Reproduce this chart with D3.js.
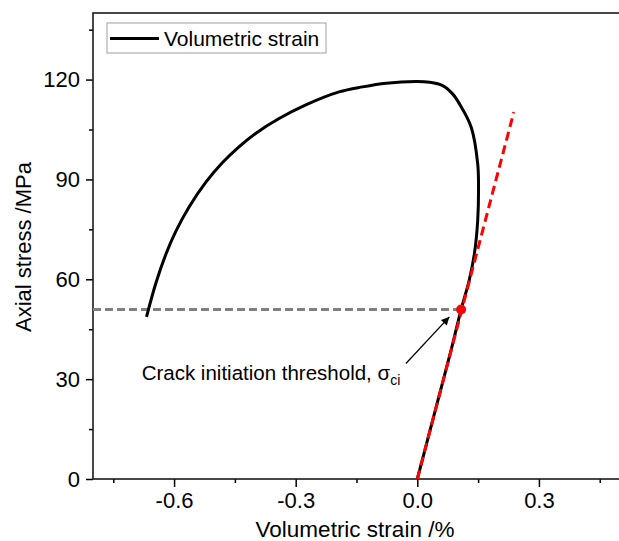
<!DOCTYPE html>
<html>
<head>
<meta charset="utf-8">
<script src="https://cdn.jsdelivr.net/npm/d3@7"></script>
<style>
  html, body { margin: 0; padding: 0; background: #fff; }
  svg { display: block; font-family: "Liberation Sans", Arial, sans-serif; }
</style>
</head>
<body>
<div id="chart"></div>
<script>
// volumetric strain curve (strain in %, stress in MPa)
const strain = [0, 0.028, 0.056, 0.084, 0.108, 0.128, 0.141, 0.149, 0.151, 0.149, 0.133,
  0.104, 0.087, 0.0625, 0.03, -0.003, -0.077, -0.135, -0.193, -0.275, -0.341, -0.398,
  -0.440, -0.481, -0.522, -0.563, -0.596, -0.620, -0.645, -0.668];
const stress = [0, 13, 26, 39, 50.9, 59.7, 67.8, 77.7, 87.7, 94.7, 105.7,
  112.7, 115.7, 118.2, 119.2, 119.4, 118.9, 117.8, 116.3, 112.4, 108.3, 103.9,
  99.8, 95.0, 89.1, 81.7, 74.3, 67.6, 58.8, 48.7];

// linear elastic fit (red dashed)
const fitStrain = [0, 0.238];
const fitStress = [0, 110.2];

// crack initiation point
const ciStrain = 0.108;
const ciStress = 50.9;

// annotation arrow (tail -> head) and label anchor
const arrowStrain = [-0.028, 0.079];
const arrowStress = [34.7, 48.7];
const labelAt = [-0.68, 29.7];

const xMajor = [-0.6, -0.3, 0.0, 0.3];
const xMinor = [-0.75, -0.45, -0.15, 0.15, 0.45];
const yMajor = [0, 30, 60, 90, 120];
const yMinor = [15, 45, 75, 105, 135];

const W = 619, H = 541;
const M = { left: 93, right: 620, top: 13, bottom: 479 };

const svg = d3.select("#chart").append("svg")
  .attr("width", W).attr("height", H);

const x = d3.scaleLinear().domain([-0.8, 0.5]).range([M.left, M.right]);
const y = d3.scaleLinear().domain([0, 140]).range([M.bottom, M.top]);

// plain hyphen for negatives, like the source plot
const fmt = (d) => d.toFixed(1).replace("\u2212", "-");

// ─── axes ──────────────────────────────────────────────────────────────
const xAxis = d3.axisBottom(x).tickValues(xMajor).tickSize(8).tickPadding(5).tickFormat(fmt);
const xAxisMinor = d3.axisBottom(x).tickValues(xMinor).tickSize(4).tickFormat("");
const yAxis = d3.axisLeft(y).tickValues(yMajor).tickSize(7).tickPadding(6);
const yAxisMinor = d3.axisLeft(y).tickValues(yMinor).tickSize(4).tickFormat("");

function styleAxis(g) {
  g.select(".domain").remove();
  g.selectAll("line").attr("stroke", "#000").attr("stroke-width", 1.5);
  g.selectAll("text").attr("font-size", 22).attr("fill", "#000")
    .attr("font-family", "'Liberation Sans', Arial, sans-serif");
}

svg.append("g").attr("transform", `translate(0,${M.bottom})`).call(xAxis).call(styleAxis);
svg.append("g").attr("transform", `translate(0,${M.bottom})`).call(xAxisMinor).call(styleAxis);
svg.append("g").attr("transform", `translate(${M.left},0)`).call(yAxis).call(styleAxis);
svg.append("g").attr("transform", `translate(${M.left},0)`).call(yAxisMinor).call(styleAxis);

// frame
svg.append("rect")
  .attr("x", M.left).attr("y", M.top)
  .attr("width", M.right - M.left).attr("height", M.bottom - M.top)
  .attr("fill", "none").attr("stroke", "#1a1a1a").attr("stroke-width", 1.6);

// axis titles
svg.append("text")
  .attr("x", 355).attr("y", 537)
  .attr("text-anchor", "middle").attr("font-size", 22.5)
  .text("Volumetric strain /%");
svg.append("text")
  .attr("transform", "translate(31,247) rotate(-90)")
  .attr("text-anchor", "middle").attr("font-size", 22)
  .text("Axial stress /MPa");

// ─── threshold line ────────────────────────────────────────────────────
svg.append("line")
  .attr("x1", x(-0.8)).attr("x2", x(ciStrain))
  .attr("y1", y(ciStress)).attr("y2", y(ciStress))
  .attr("stroke", "#808080").attr("stroke-width", 3)
  .attr("stroke-dasharray", "8 4");

// ─── curve ─────────────────────────────────────────────────────────────
const pts = strain.map((s, i) => [s, stress[i]]);
const line = d3.line().x((d) => x(d[0])).y((d) => y(d[1])).curve(d3.curveCatmullRom);
svg.append("path")
  .datum(pts)
  .attr("d", line)
  .attr("fill", "none")
  .attr("stroke", "#000")
  .attr("stroke-width", 3);

// linear fit on top
svg.append("path")
  .datum(fitStrain.map((s, i) => [s, fitStress[i]]))
  .attr("d", d3.line().x((d) => x(d[0])).y((d) => y(d[1])))
  .attr("fill", "none")
  .attr("stroke", "#ff0000")
  .attr("stroke-width", 3)
  .attr("stroke-dasharray", "9 5");

svg.append("circle")
  .attr("cx", x(ciStrain)).attr("cy", y(ciStress)).attr("r", 5)
  .attr("fill", "#ff0000");

// ─── annotation ────────────────────────────────────────────────────────
svg.append("defs").append("marker")
  .attr("id", "arrow")
  .attr("viewBox", "0 0 10 10")
  .attr("refX", 10).attr("refY", 5)
  .attr("markerWidth", 10).attr("markerHeight", 8)
  .attr("markerUnits", "userSpaceOnUse")
  .attr("orient", "auto")
  .append("path").attr("d", "M0,0 L10,5 L0,10 Z").attr("fill", "#000");

svg.append("line")
  .attr("x1", x(arrowStrain[0])).attr("y1", y(arrowStress[0]))
  .attr("x2", x(arrowStrain[1])).attr("y2", y(arrowStress[1]))
  .attr("stroke", "#000").attr("stroke-width", 1.3)
  .attr("marker-end", "url(#arrow)");

const label = svg.append("text")
  .attr("x", x(labelAt[0])).attr("y", y(labelAt[1]))
  .attr("font-size", 20.5);
label.append("tspan").text("Crack initiation threshold, σ");
label.append("tspan").attr("dy", 5).attr("font-size", 14).text("ci");

// ─── legend ────────────────────────────────────────────────────────────
const legend = svg.append("g").attr("transform", "translate(107,23)");
legend.append("rect")
  .attr("width", 219).attr("height", 30)
  .attr("fill", "#fff").attr("stroke", "#a0a0a0").attr("stroke-width", 1);
legend.append("line")
  .attr("x1", 3).attr("x2", 52).attr("y1", 15.5).attr("y2", 15.5)
  .attr("stroke", "#000").attr("stroke-width", 3);
legend.append("text")
  .attr("x", 57).attr("y", 22.5).attr("font-size", 21)
  .text("Volumetric strain");
</script>
</body>
</html>
